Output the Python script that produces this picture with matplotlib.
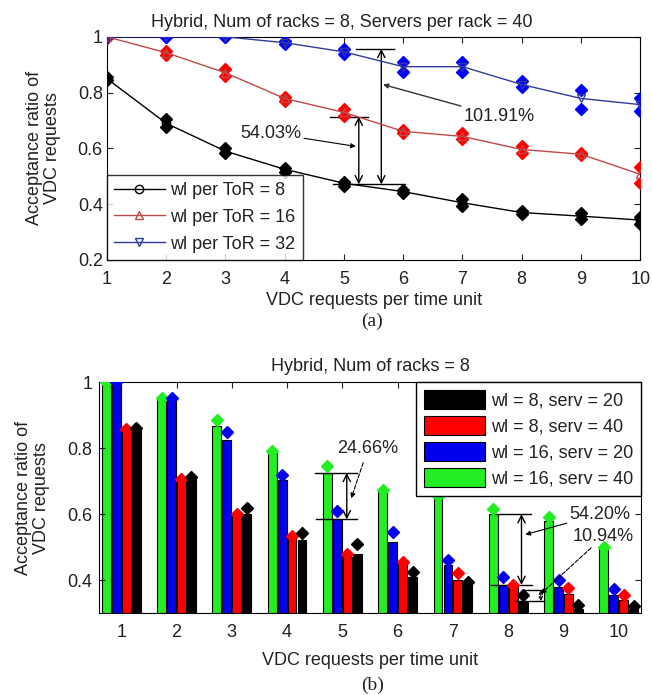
import numpy as np
import matplotlib
matplotlib.use('Agg')
import matplotlib.pyplot as plt

plt.rcParams['font.family'] = ['Liberation Sans', 'DejaVu Sans']
plt.rcParams['font.size'] = 13
plt.rcParams['text.color'] = '#222222'
plt.rcParams['axes.labelcolor'] = '#222222'
plt.rcParams['xtick.color'] = '#222222'
plt.rcParams['ytick.color'] = '#222222'

#### Data, panel (a) ###########################
req = [1, 2, 3, 4, 5, 6, 7, 8, 9, 10]
wl8_mean = [0.85, 0.69, 0.59, 0.525, 0.475, 0.445, 0.405, 0.37, 0.357, 0.343]
wl8_lo = [0.845, 0.675, 0.585, 0.515, 0.465, 0.44, 0.395, 0.365, 0.345, 0.33]
wl8_hi = [0.855, 0.705, 0.60, 0.53, 0.48, 0.45, 0.42, 0.375, 0.37, 0.355]
wl16_mean = [1.0, 0.943, 0.871, 0.779, 0.729, 0.661, 0.643, 0.596, 0.579, 0.507]
wl16_lo = [0.995, 0.935, 0.86, 0.77, 0.715, 0.655, 0.635, 0.585, 0.575, 0.475]
wl16_hi = [1.0, 0.95, 0.885, 0.785, 0.74, 0.665, 0.655, 0.61, 0.585, 0.535]
wl32_mean = [1.0, 1.0, 1.0, 0.979, 0.946, 0.893, 0.893, 0.829, 0.779, 0.757]
wl32_lo = [1.0, 1.0, 1.0, 0.975, 0.94, 0.875, 0.875, 0.82, 0.74, 0.735]
wl32_hi = [1.0, 1.0, 1.0, 0.985, 0.955, 0.91, 0.91, 0.84, 0.81, 0.78]

#### Data, panel (b) ###########################
# bar heights and marker (diamond) heights per configuration
g_wl16_s40 = [1.0, 0.951, 0.866, 0.786, 0.725, 0.670, 0.65, 0.60, 0.578, 0.50]
g_wl16_s40_pt = [1.0, 0.951, 0.884, 0.79, 0.745, 0.672, 0.655, 0.615, 0.59, 0.50]
g_wl16_s20 = [1.0, 0.951, 0.826, 0.703, 0.584, 0.514, 0.447, 0.386, 0.38, 0.355]
g_wl16_s20_pt = [1.0, 0.951, 0.85, 0.72, 0.61, 0.545, 0.462, 0.408, 0.40, 0.373]
g_wl8_s40 = [0.859, 0.70, 0.597, 0.533, 0.47, 0.45, 0.40, 0.38, 0.358, 0.34]
g_wl8_s40_pt = [0.859, 0.705, 0.60, 0.535, 0.48, 0.456, 0.422, 0.385, 0.376, 0.356]
g_wl8_s20 = [0.855, 0.707, 0.60, 0.52, 0.48, 0.41, 0.39, 0.333, 0.312, 0.313]
g_wl8_s20_pt = [0.862, 0.712, 0.62, 0.542, 0.508, 0.425, 0.395, 0.355, 0.324, 0.32]

fig = plt.figure(figsize=(6.52, 6.95), dpi=100)

"""
Panel (a)
"""
ax1 = fig.add_axes([0.164, 0.626, 0.818, 0.321])
x = np.array(req)
series = [(wl8_mean, wl8_lo, wl8_hi, 'black', 'black', 'o', 'wl per ToR = 8'),
          (wl16_mean, wl16_lo, wl16_hi, '#c04848', '#ff0000', '^', 'wl per ToR = 16'),
          (wl32_mean, wl32_lo, wl32_hi, '#303c9c', '#0000ff', 'v', 'wl per ToR = 32')]
for mean, lo, hi, lc, dc, mk, lab in series:
    ax1.plot(x, lo, 'D', color=dc, ms=6, zorder=3)
    ax1.plot(x, hi, 'D', color=dc, ms=6, zorder=3)
    ax1.plot(x, mean, '-', color=lc, marker=mk, mfc='none', mec=lc, ms=6,
             lw=1, label=lab, zorder=4)
ax1.set_xlim(1, 10)
ax1.set_ylim(0.2, 1.0)
ax1.set_xticks(req)
ax1.set_yticks([0.2, 0.4, 0.6, 0.8, 1.0])
ax1.set_yticklabels(['0.2', '0.4', '0.6', '0.8', '1'])
ax1.tick_params(direction='in', top=True, right=True, length=4, pad=3)
ax1.tick_params(axis='x', pad=8)
ax1.set_title('Hybrid, Num of racks = 8, Servers per rack = 40', fontsize=13,
              pad=7, x=0.44)
ax1.set_xlabel('VDC requests per time unit', labelpad=3)
ax1.set_ylabel('Acceptance ratio of\nVDC requests', linespacing=1.1, labelpad=12)
leg1 = ax1.legend(loc='lower left', borderaxespad=0, fancybox=False,
                  edgecolor='black', handlelength=2.8, borderpad=0.4,
                  labelspacing=0.55, handletextpad=0.3, fontsize=13)
leg1.get_frame().set_linewidth(1)
leg1.set_zorder(10)

# difference markers
arr = dict(arrowstyle='<->', color='black', lw=1, shrinkA=0, shrinkB=0)
ax1.plot([4.77, 5.41], [0.714, 0.714], color='black', lw=1)
ax1.plot([4.82, 6.03], [0.471, 0.471], color='black', lw=1)
ax1.plot([5.2, 5.85], [0.957, 0.957], color='black', lw=1)
ax1.annotate('', xy=(5.25, 0.714), xytext=(5.25, 0.471), arrowprops=arr)
ax1.annotate('', xy=(5.63, 0.957), xytext=(5.63, 0.471), arrowprops=arr)
ax1.annotate('54.03%', xy=(5.2, 0.607), xytext=(3.25, 0.655), va='center',
             fontsize=13, arrowprops=dict(arrowstyle='-|>', color='black', lw=0.8,
                                          mutation_scale=7, shrinkA=0, shrinkB=0))
ax1.annotate('101.91%', xy=(5.66, 0.829), xytext=(7.02, 0.714), va='center',
             fontsize=13, arrowprops=dict(arrowstyle='-|>', color='#333333', lw=1,
                                          mutation_scale=7, shrinkA=0, shrinkB=0))
fig.text(0.571, 0.537, '(a)', ha='center', va='center', fontsize=14,
         family='Liberation Serif')

"""
Panel (b)
"""
ax2 = fig.add_axes([0.152, 0.118, 0.831, 0.332])
w = 0.16
offs = [-0.27, -0.09, 0.09, 0.27]
bars = [(g_wl16_s40, g_wl16_s40_pt, '#22ee22', 'wl = 16, serv = 40'),
        (g_wl16_s20, g_wl16_s20_pt, '#0000ee', 'wl = 16, serv = 20'),
        (g_wl8_s40, g_wl8_s40_pt, '#ff0000', 'wl = 8, serv = 40'),
        (g_wl8_s20, g_wl8_s20_pt, '#000000', 'wl = 8, serv = 20')]
handles = {}
for (h, pt, c, lab), o in zip(bars, offs):
    b = ax2.bar(x + o, h, width=w, color=c, edgecolor='black', lw=0.8, label=lab)
    ax2.plot(x + o, pt, 'D', color=c, ms=6, zorder=3)
    handles[lab] = b
ax2.set_xlim(0.6, 10.4)
ax2.set_ylim(0.3, 1.0)
ax2.set_xticks(req)
ax2.set_yticks([0.4, 0.6, 0.8, 1.0])
ax2.set_yticklabels(['0.4', '0.6', '0.8', '1'])
ax2.tick_params(direction='in', top=True, right=True, length=4, pad=5)
ax2.tick_params(axis='x', pad=8)
ax2.set_title('Hybrid, Num of racks = 8', fontsize=13, pad=8)
ax2.set_xlabel('VDC requests per time unit', labelpad=8)
ax2.set_ylabel('Acceptance ratio of\nVDC requests', linespacing=1.1, labelpad=12)
order = ['wl = 8, serv = 20', 'wl = 8, serv = 40', 'wl = 16, serv = 20', 'wl = 16, serv = 40']
leg2 = ax2.legend([handles[k] for k in order], order, loc='upper right',
                  borderaxespad=0, fancybox=False, edgecolor='black',
                  handlelength=3.4, handleheight=1.25, handletextpad=0.3,
                  borderpad=0.45, labelspacing=0.35, fontsize=13, framealpha=1)
leg2.get_frame().set_linewidth(1)
leg2.set_zorder(10)

ax2.plot([4.50, 5.26], [0.725, 0.725], color='black', lw=1)
ax2.plot([4.53, 5.27], [0.584, 0.584], color='black', lw=1)
ax2.annotate('', xy=(5.08, 0.725), xytext=(5.08, 0.584), arrowprops=arr)
ax2.annotate('24.66%', xy=(5.16, 0.648), xytext=(4.91, 0.798), va='center',
             fontsize=13, arrowprops=dict(arrowstyle='-|>', color='black', lw=0.8,
                                          ls='--', mutation_scale=7, shrinkA=2, shrinkB=0))
ax2.plot([7.70, 8.42], [0.60, 0.60], color='black', lw=1)
ax2.plot([7.68, 8.43], [0.385, 0.385], color='black', lw=1)
ax2.annotate('', xy=(8.24, 0.60), xytext=(8.24, 0.385), arrowprops=arr)
ax2.plot([8.3, 8.65], [0.37, 0.37], color='black', lw=1)
ax2.plot([8.13, 8.65], [0.336, 0.336], color='black', lw=1)
ax2.annotate('', xy=(8.59, 0.37), xytext=(8.59, 0.336),
             arrowprops=dict(arrowstyle='<->', color='black', lw=0.8,
                             mutation_scale=6, shrinkA=0, shrinkB=0))
ax2.annotate('54.20%', xy=(8.31, 0.538), xytext=(9.11, 0.60), va='center',
             fontsize=13, arrowprops=dict(arrowstyle='-|>', color='black', lw=0.8,
                                          mutation_scale=7, shrinkA=0, shrinkB=0))
ax2.annotate('10.94%', xy=(8.59, 0.358), xytext=(9.17, 0.532), va='center',
             fontsize=13, arrowprops=dict(arrowstyle='-|>', color='black', lw=0.8,
                                          ls='--', mutation_scale=7, shrinkA=0, shrinkB=0))
fig.text(0.571, 0.014, '(b)', ha='center', va='center', fontsize=14,
         family='Liberation Serif')

fig.savefig('out.png', dpi=100)
